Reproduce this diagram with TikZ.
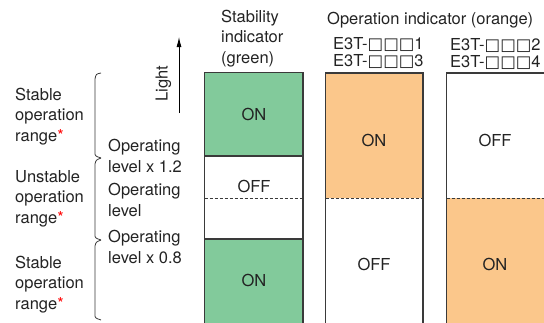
\documentclass[tikz,border=0pt]{standalone}
\usepackage{xcolor}
\usepackage{fontspec}
\setmainfont{TeX Gyre Heros}
\newfontfamily\boxfont{DejaVu Sans}
\usepackage{tikz}
\usetikzlibrary{arrows, arrows.meta, positioning, calc}

\definecolor{stabgreen}{RGB}{130,202,155}
\definecolor{oporange}{RGB}{251,199,139}
\definecolor{edgegray}{RGB}{58,58,58}
\definecolor{textgray}{RGB}{35,35,35}

\newcommand{\blank}{{\boxfont\char"25A1}}
\newcommand{\note}{{\color{red}*}}

\begin{document}
\begin{tikzpicture}[x=1pt, y=-1pt, font=\fontsize{16.5}{20.5}\selectfont, text=textgray]
		\tikzstyle{lamp}=[draw=edgegray, line width=1.4pt]
		\tikzstyle{cutline}=[draw=edgegray, line width=0.8pt, dash pattern=on 3pt off 2pt]
		\tikzstyle{rangebrace}=[draw=edgegray, line width=0.8pt]
		\tikzstyle{lampstate}=[inner sep=0pt]
		\tikzstyle{caption}=[align=left, anchor=base west, inner sep=0pt]
		\tikzstyle{model}=[caption, font=\fontsize{16.5}{16.5}\selectfont]

		\useasboundingbox (0,0) rectangle (544,322);

		\begin{scope}
		\clip (0,0) rectangle (544,322);
		% stability indicator (green)
		\fill[stabgreen] (204.5,72.5) rectangle (303,156);
		\fill[stabgreen] (204.5,239) rectangle (303,340);
		\draw[cutline] (204.5,198) -- (303,198);
		\draw[lamp] (204.5,156) -- (303,156);
		\draw[lamp] (204.5,239) -- (303,239);
		\draw[lamp] (204.5,340) -- (204.5,72.5) -- (303,72.5) -- (303,340);
		% operation indicator, light ON
		\fill[oporange] (325.5,73) rectangle (423,198);
		\draw[cutline] (325.5,198) -- (423,198);
		\draw[lamp] (325.5,340) -- (325.5,73) -- (423,73) -- (423,340);
		% operation indicator, dark ON
		\fill[oporange] (446.5,198) rectangle (570,340);
		\draw[cutline] (446.5,198) -- (570,198);
		\draw[lamp] (446.5,340) -- (446.5,73) -- (570,73) -- (570,340);
		\end{scope}

		\node (s1) at (254,114.5) [lampstate] {ON};
		\node (s2) at (254,186) [lampstate] {OFF};
		\node (s3) at (254,280) [lampstate] {ON};
		\node (o1) at (374,140) [lampstate] {ON};
		\node (o2) at (374,264) [lampstate] {OFF};
		\node (o3) at (495,140) [lampstate] {OFF};
		\node (o4) at (495,264) [lampstate] {ON};

		% base = baseline of the last line
		\node (stabhead) at (221,63) [caption] {Stability\\indicator\\(green)};
		\node (ophead) at (327,24.5) [caption] {Operation indicator (orange)};
		\node (model13) at (333,66) [model] {E3T-\blank\blank\blank1\\E3T-\blank\blank\blank3};
		\node (model24) at (450,67) [model] {E3T-\blank\blank\blank2\\E3T-\blank\blank\blank4};

		\coordinate (lightfoot) at (179,113);
		\coordinate (lighttip) at (179,37);
		\draw [-{Latex[length=10pt, width=5pt]}, line width=0.9pt, black] (lightfoot) -- (lighttip);
		\node (light) at (163.5,83.5) [rotate=90, inner sep=0pt] {Light};

		\node (rng1) at (15,141) [caption] {Stable\\operation\\range\note};
		\node (rng2) at (15,223) [caption] {Unstable\\operation\\range\note};
		\node (rng3) at (15,309) [caption] {Stable\\operation\\range\note};

		\node (lvl1) at (108,172) [caption] {Operating\\level x 1.2};
		\node (lvl2) at (108,216) [caption] {Operating\\level};
		\node (lvl3) at (108,263) [caption] {Operating\\level x 0.8};

		\draw[rangebrace] (101,73) .. controls (96,74) .. (95,79) -- (95,152) .. controls (95,156) .. (101,158);
		\draw[rangebrace] (101,158) .. controls (96,160) .. (95,164) -- (95,234) .. controls (95,238) .. (101,240);
		\draw[rangebrace] (101,240) .. controls (96,242) .. (95,246) -- (95,314) .. controls (95,318) .. (101,320);
\end{tikzpicture}
\end{document}
